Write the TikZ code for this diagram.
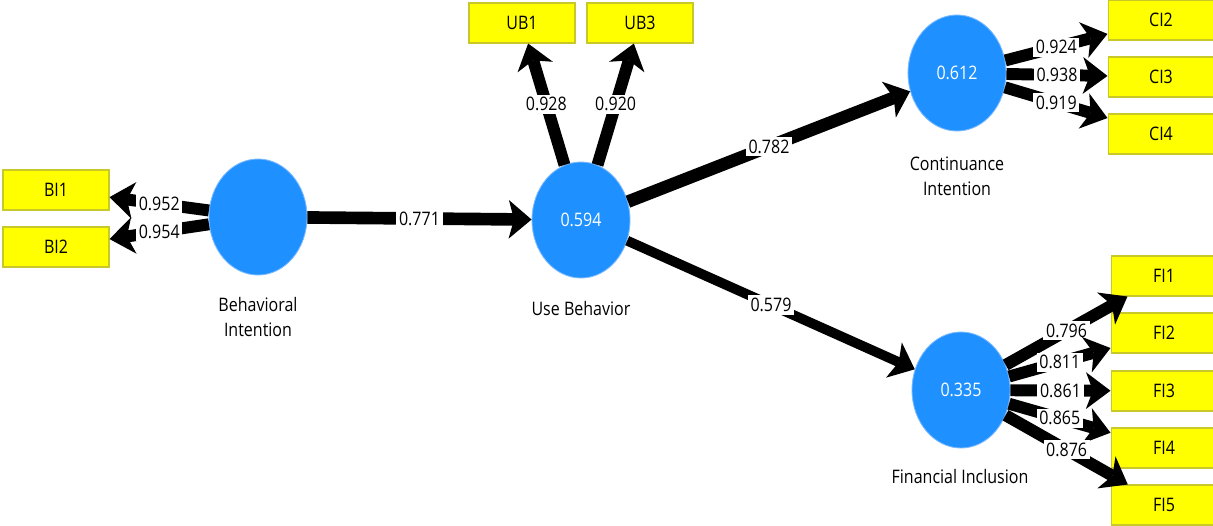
\documentclass[tikz,border=0pt]{standalone}
\usepackage{fontspec}
\setmainfont{Open Sans}[FakeStretch=0.86]
\usepackage{xcolor}
\usetikzlibrary{arrows.meta,shapes.geometric,positioning}

\definecolor{lvblue}{RGB}{30,144,255}
\definecolor{lvedge}{RGB}{120,185,255}
\definecolor{itemyellow}{RGB}{255,255,0}
\definecolor{itemedge}{RGB}{200,200,40}

\begin{document}
\begin{tikzpicture}[
    x=0.02cm, y=-0.02cm,
    every node/.style={font=\fontsize{10.6}{14.2}\selectfont, align=center},
    construct/.style={ellipse, fill=lvblue, draw=lvedge, line width=0.5pt, minimum width=1.96cm, minimum height=2.32cm, inner sep=0pt, text=white},
    item/.style={fill=itemyellow, draw=itemedge, line width=0.6pt, minimum width=2.12cm, minimum height=0.8cm, inner sep=0pt},
    coef/.style={fill=white, inner sep=1.5pt},
    load/.style={line width=6.8pt, -{Stealth[length=14pt, width=21pt, inset=4pt, line width=0pt]}},
    struct/.style={line width=#1, -{Stealth[length=13pt, width=22pt, inset=3pt, line width=0pt]}},
    struct/.default=7.2pt,
]
\useasboundingbox (0,0) rectangle (1213,525);

% Latent variables
\node[construct] (BI) at (258,217) {};
\node[construct] (UB) at (581,220) {0.594};
\node[construct] (CI) at (957,73) {0.612};
\node[construct] (FI) at (961,390) {0.335};

% Names under the circles
\node (BIname) at (258,317) {Behavioral\\Intention};
\node (UBname) at (581,309) {Use Behavior};
\node (CIname) at (957,176) {Continuance\\Intention};
\node (FIname) at (960,477) {Financial Inclusion};

% Indicators
\node[item] (BI1) at (56,190) {BI1};
\node[item] (BI2) at (56,247) {BI2};
\node[item] (UB1) at (522,23) {UB1};
\node[item] (UB3) at (640,23) {UB3};
\node[item] (CI2) at (1161,20) {CI2};
\node[item] (CI3) at (1161,77) {CI3};
\node[item] (CI4) at (1161,134) {CI4};
\node[item] (FI1) at (1164,276) {FI1};
\node[item] (FI2) at (1164,333) {FI2};
\node[item] (FI3) at (1164,391) {FI3};
\node[item] (FI4) at (1164,448) {FI4};
\node[item] (FI5) at (1164,505) {FI5};

% Inner model
\draw[struct] (BI) -- node[coef] {0.771} (UB);
\draw[struct] (UB) -- node[coef] {0.782} (CI);
\draw[struct=5.6pt] (UB) -- node[coef] {0.579} (FI);

% Outer loadings
\draw[load] (BI) -- node[coef] {0.952} (BI1);
\draw[load] (BI) -- node[coef] {0.954} (BI2);
\draw[load] (UB) -- node[coef] {0.928} (UB1);
\draw[load] (UB) -- node[coef] {0.920} (UB3);
\draw[load] (CI) -- node[coef] {0.924} (CI2);
\draw[load] (CI) -- node[coef] {0.938} (CI3);
\draw[load] (CI) -- node[coef] {0.919} (CI4);
\draw[load] (FI) -- node[coef] {0.796} (FI1);
\draw[load] (FI) -- node[coef] {0.811} (FI2);
\draw[load] (FI) -- node[coef] {0.861} (FI3);
\draw[load] (FI) -- node[coef] {0.865} (FI4);
\draw[load] (FI) -- node[coef] {0.876} (FI5);

\end{tikzpicture}
\end{document}
